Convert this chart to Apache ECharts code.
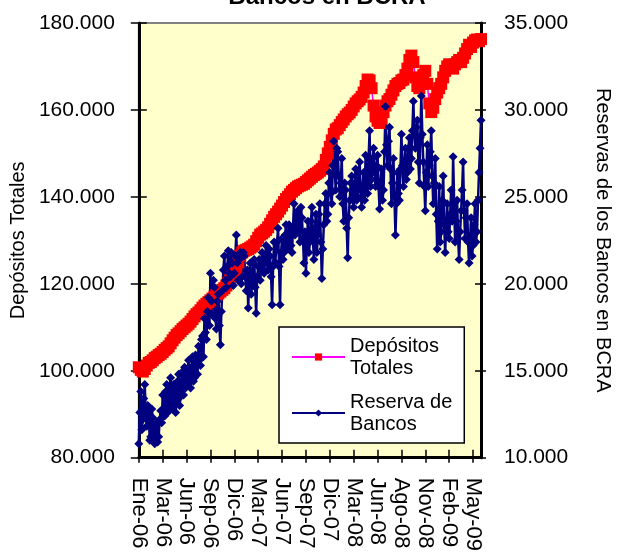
<!DOCTYPE html>
<html><head><meta charset="utf-8">
<script src="https://cdn.jsdelivr.net/npm/echarts@6/dist/echarts.min.js"></script>
<style>html,body{margin:0;padding:0;background:#fff;overflow:hidden}#c{width:621px;height:554px}</style>
</head><body><div id="c"></div>
<script>
// Tick labels (one every 3 months)
const tickLabels = ['Ene-06','Mar-06','Jun-06','Sep-06','Dic-06','Mar-07','Jun-07','Sep-07','Dic-07','Mar-08','Jun-08','Ago-08','Nov-08','Feb-09','May-09'];

// Depósitos Totales (weekly, left axis, miles)
const depositos = [
 100.8,100.2,99.8,100.4,101.2,101.8,102.0,102.4,102.9,103.2,
 103.6,103.9,104.3,104.8,105.2,105.6,106.3,107.0,107.6,108.2,
 108.6,109.1,109.6,110.0,110.4,110.8,111.3,111.9,112.5,113.0,
 113.4,113.9,114.5,115.0,115.4,115.8,116.2,116.6,117.0,117.4,
 117.8,118.2,118.6,119.0,119.6,120.2,121.0,121.8,122.6,123.5,
 125.0,126.5,127.2,127.6,127.8,128.0,128.3,128.6,129.0,129.8,
 130.6,131.3,131.6,132.0,132.4,133.0,133.8,134.6,135.4,136.0,
 136.6,137.3,138.0,138.8,139.5,140.0,140.6,141.2,141.6,142.0,
 142.4,142.6,142.8,143.0,143.4,143.8,144.2,144.6,145.0,145.3,
 145.6,146.0,146.4,147.0,148.5,150.0,151.5,153.0,154.5,155.5,
 155.8,156.5,157.2,157.8,158.5,159.0,159.4,160.0,160.8,161.5,
 162.0,162.4,163.0,164.0,165.5,167.0,166.8,165.0,161.0,158.5,
 157.5,157.0,158.0,159.5,161.0,162.0,162.5,163.5,164.5,165.5,
 166.0,166.2,166.8,167.0,168.0,169.5,171.5,172.5,171.0,167.5,
 165.5,165.0,166.0,168.0,169.0,166.0,161.5,159.5,160.5,162.5,
 164.0,165.0,166.0,167.5,169.0,170.0,170.5,170.0,169.5,170.5,
 171.0,171.5,171.0,172.0,173.0,174.0,175.0,174.5,175.5,176.0,
 176.2,175.8,176.3
];

// Reserva de Bancos en BCRA (twice weekly, right axis, miles)
const reservas = [
 10.8,12.6,13.8,11.6,12.2,13.4,14.2,12.4,11.8,13.0,12.5,11.0,11.2,12.8,12.3,11.4,10.8,11.8,12.0,10.9,11.2,12.2,12.7,12.0,
 13.6,12.8,12.4,13.8,14.2,12.6,13.0,14.0,14.6,13.2,12.8,14.2,13.9,12.6,13.2,14.4,14.8,13.0,13.5,14.9,14.4,13.6,15.2,14.0,
 14.2,15.0,15.6,14.4,14.0,15.2,15.8,14.4,14.6,15.9,15.4,14.8,16.4,15.6,15.3,16.8,17.0,15.8,18.0,17.2,16.8,18.4,19.2,17.6,
 20.6,19.0,18.2,20.2,19.8,18.0,17.4,19.0,19.4,17.6,16.5,18.4,19.6,20.8,21.6,20.2,19.8,21.0,21.9,20.6,20.4,21.8,21.2,19.9,
 20.6,21.6,22.8,21.2,20.2,21.4,21.8,20.0,20.4,21.8,21.6,20.4,19.6,20.8,18.6,20.4,21.2,19.4,20.0,21.2,21.4,19.8,18.3,20.4,
 21.0,21.4,20.2,21.0,21.8,20.8,20.6,21.6,22.2,21.2,20.8,22.0,21.6,20.4,18.8,21.0,22.4,21.2,21.2,22.4,23.2,21.0,18.8,21.8,
 22.6,21.4,21.8,22.8,23.4,22.0,22.2,23.4,23.0,22.2,21.8,23.2,24.6,22.8,23.2,24.0,24.2,23.0,22.4,24.4,23.8,22.6,21.2,23.0,
 20.6,22.6,23.6,21.8,22.4,23.6,24.4,22.6,21.4,23.2,24.0,21.8,22.8,24.0,24.6,22.4,20.3,22.0,23.4,24.6,25.2,23.6,24.0,25.8,
 26.4,25.2,24.6,26.8,28.2,26.4,25.4,27.8,27.6,26.2,25.0,25.8,27.2,24.6,23.6,25.8,25.4,23.2,21.5,23.8,24.8,25.8,26.2,24.8,
 24.4,25.8,26.6,24.8,25.0,26.4,27.0,25.4,24.4,25.6,26.4,24.8,27.4,26.0,25.2,27.2,28.8,25.6,26.0,27.2,27.8,26.4,25.6,26.8,
 27.4,25.6,24.3,25.8,26.6,24.8,25.4,27.6,30.2,28.0,26.8,28.2,29.0,26.6,24.6,25.8,27.2,25.0,22.8,24.6,26.4,25.2,24.8,26.6,
 28.6,26.8,25.6,27.0,27.8,26.0,26.4,27.8,28.4,26.6,27.2,28.8,30.5,28.6,27.8,29.0,29.4,27.0,25.8,28.4,30.8,28.6,27.0,25.6,
 24.2,26.4,28.0,25.6,26.8,27.6,28.8,26.2,24.6,25.8,27.2,24.0,22.0,23.6,25.6,22.4,23.0,24.8,26.2,23.4,21.8,23.4,24.6,23.0,
 22.6,24.0,25.4,23.6,27.3,24.6,22.4,23.6,24.8,22.6,21.4,23.0,24.2,25.4,27.0,24.2,22.6,23.8,24.6,22.4,21.2,22.6,23.8,21.6,
 22.2,23.4,24.6,22.4,23.0,24.8,26.4,27.8,29.4
];

const STEP_R = 24;
const catR = reservas.map((_, i) => (i % STEP_R === 0 && tickLabels[i / STEP_R]) ? tickLabels[i / STEP_R] : 'r' + i);
const catD = depositos.map((_, i) => 'd' + i);
const FONT = 'Liberation Sans, Arial, sans-serif';
const fmt = v => Math.round(v * 1000).toString().replace(/\B(?=(\d{3})+(?!\d))/g, '.');

const chart = echarts.init(document.getElementById('c'), null, {renderer: 'canvas'});
chart.setOption({
  animation: false,
  backgroundColor: '#ffffff',
  textStyle: {fontFamily: FONT},
  graphic: [{
    type: 'text', x: 327, y: 9, z: 100,
    style: {text: 'Bancos en BCRA', font: 'bold 24px ' + FONT, fill: '#000',
            textAlign: 'center', textVerticalAlign: 'bottom'}
  }],
  grid: {left: 137, right: 129, top: 23, bottom: 89, show: true,
         backgroundColor: '#FFFFCC', borderColor: '#808080', borderWidth: 2},
  legend: {
    orient: 'vertical', left: 279, top: 327,
    backgroundColor: '#ffffff', borderColor: '#000', borderWidth: 1.5,
    padding: [8, 12, 8, 12], itemGap: 12, itemWidth: 53, itemHeight: 9,
    textStyle: {fontSize: 20, fontFamily: FONT, color: '#000', lineHeight: 22},
    data: [{name: 'Depósitos\nTotales'}, {name: 'Reserva de\nBancos'}]
  },
  xAxis: [
    {type: 'category', data: catR, boundaryGap: false, position: 'bottom',
     axisLine: {lineStyle: {color: '#000', width: 3}},
     axisTick: {show: true, interval: STEP_R - 1, inside: false, length: 5, lineStyle: {color: '#000', width: 1.5}},
     axisLabel: {interval: STEP_R - 1, rotate: -90, margin: 20, fontSize: 22, color: '#000', fontFamily: FONT},
     splitLine: {show: false}},
    {type: 'category', data: catR, boundaryGap: false, position: 'bottom',
     axisLine: {show: false},
     axisTick: {show: true, interval: STEP_R - 1, inside: true, length: 8, lineStyle: {color: '#000', width: 1.5}},
     axisLabel: {show: false}, splitLine: {show: false}},
    {type: 'category', data: catD, boundaryGap: false, position: 'bottom', show: false}
  ],
  yAxis: [
    {type: 'value', position: 'left', min: 80, max: 180, interval: 20,
     name: 'Depósitos Totales', nameLocation: 'middle', nameGap: 92, nameRotate: 90,
     nameTextStyle: {fontSize: 20, color: '#000', fontFamily: FONT},
     axisLine: {show: true, lineStyle: {color: '#000', width: 3}},
     axisTick: {show: true, length: 8, lineStyle: {color: '#000', width: 1.5}},
     axisLabel: {formatter: fmt, fontSize: 21, color: '#000', margin: 24, fontFamily: FONT},
     splitLine: {show: false}},
    {type: 'value', position: 'right', min: 10, max: 35, interval: 5,
     name: 'Reservas de los Bancos en BCRA', nameLocation: 'middle', nameGap: 112, nameRotate: -90,
     nameTextStyle: {fontSize: 20, color: '#000', fontFamily: FONT},
     axisLine: {show: true, lineStyle: {color: '#000', width: 3}},
     axisTick: {show: true, length: 5, lineStyle: {color: '#000', width: 1.5}},
     axisLabel: {formatter: fmt, fontSize: 21, color: '#000', margin: 23, fontFamily: FONT},
     splitLine: {show: false}},
    {type: 'value', position: 'left', min: 80, max: 180, interval: 20,
     axisLine: {show: false}, axisTick: {show: true, inside: true, length: 8, lineStyle: {color: '#000', width: 1.5}},
     axisLabel: {show: false}, splitLine: {show: false}},
    {type: 'value', position: 'right', min: 10, max: 35, interval: 5,
     axisLine: {show: false}, axisTick: {show: true, inside: true, length: 6, lineStyle: {color: '#000', width: 1.5}},
     axisLabel: {show: false}, splitLine: {show: false}}
  ],
  series: [
    {name: 'Depósitos\nTotales', type: 'line', xAxisIndex: 2, yAxisIndex: 0, data: depositos,
     symbol: 'rect', symbolSize: 12, showAllSymbol: true,
     itemStyle: {color: '#FF0000'}, lineStyle: {color: '#FF00FF', width: 1.5}},
    {name: 'Reserva de\nBancos', type: 'line', xAxisIndex: 0, yAxisIndex: 1, data: reservas,
     symbol: 'diamond', symbolSize: 9, showAllSymbol: true,
     itemStyle: {color: '#000080'}, lineStyle: {color: '#000080', width: 2.5}}
  ]
});
</script></body></html>
